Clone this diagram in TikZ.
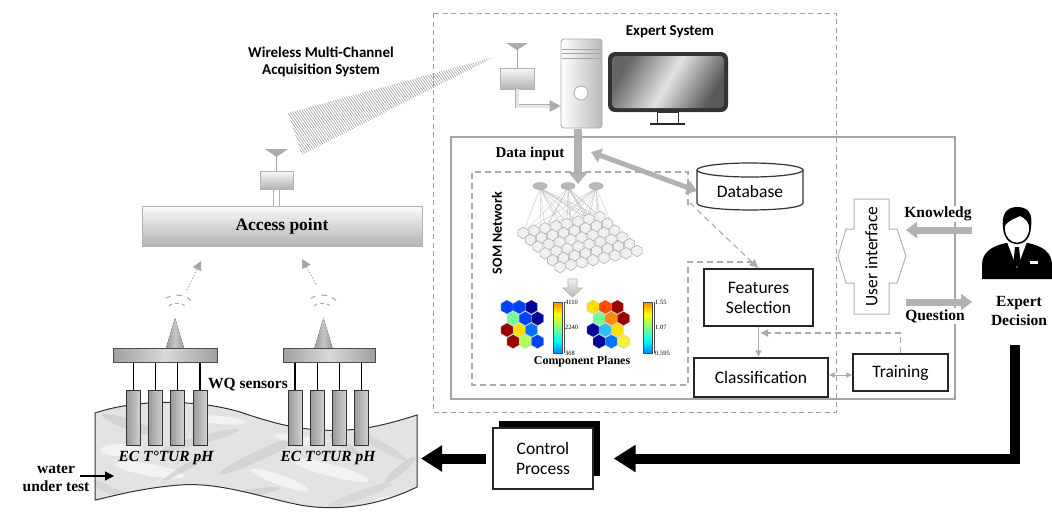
\documentclass[tikz,border=0pt]{standalone}
\usepackage{fontspec}
\setmainfont{Liberation Serif}
\newfontfamily\calfont{Carlito}
\usetikzlibrary{arrows.meta,patterns.meta,calc,shapes.geometric}
% jet colour map
\definecolor{jdblue}{rgb}{0,0,0.5}
\definecolor{jdred}{rgb}{0.5,0,0}
\definecolor{jblue}{rgb}{0,0,1}
\definecolor{jcyan}{rgb}{0,1,1}
\definecolor{jyel}{rgb}{1,1,0}
\definecolor{jred}{rgb}{1,0,0}
\pgfdeclareverticalshading{jetbar}{100bp}{color(0bp)=(jdblue); color(12bp)=(jblue); color(37bp)=(jcyan); color(63bp)=(jyel); color(88bp)=(jred); color(100bp)=(jdred)}
% cell colours of the component planes
\definecolor{cdb}{rgb}{0,0,0.6}
\definecolor{cb}{rgb}{0,0.25,1}
\definecolor{cbb}{rgb}{0,0.45,1}
\definecolor{clb}{rgb}{0.2,0.75,1}
\definecolor{ccg}{rgb}{0.45,1,0.6}
\definecolor{clg}{rgb}{0.7,1,0.35}
\definecolor{cy}{rgb}{1,0.88,0}
\definecolor{cyg}{rgb}{0.95,0.95,0.25}
\definecolor{co}{rgb}{1,0.55,0}
\definecolor{cor}{rgb}{1,0.3,0}
\definecolor{cdr}{rgb}{0.6,0,0}
\begin{document}
\begin{tikzpicture}[x=1pt,y=-1pt,
  sanstext/.style={font=\calfont\fontsize{17.5}{20}\selectfont, align=center},
  sansbold/.style={font=\calfont\bfseries\fontsize{15}{17.5}\selectfont, align=center},
  seriftext/.style={font=\rmfamily\bfseries\fontsize{15.5}{19}\selectfont, align=center},
  procbox/.style={draw=black!85, line width=1.3pt, fill=white, sanstext, inner sep=0pt},
  zonedash/.style={draw=gray!75, line width=0.9pt, dash pattern=on 5pt off 3.5pt},
  flowdash/.style={draw=gray!65, line width=1.1pt, dash pattern=on 6pt off 4pt},
  grayarrow/.style={draw=gray!60, line width=#1},
  smallhead/.style={-{Latex[length=7pt,width=7pt]}},
  blackarrow/.style={draw=black, line width=10pt, line join=miter,
     -{Triangle[length=22pt,width=26pt]}},
  hexcell/.style={draw=black!25, line width=0.2pt},
]
\useasboundingbox[fill=white] (0,0) rectangle (1052,515);

% ---------- water body ----------
\begin{scope}
\path[clip] (95,413) .. controls (140,398) and (200,400) .. (240,412)
   .. controls (270,422) and (290,428) .. (320,430)
   .. controls (360,432) and (385,425) .. (417,415) -- (417,487)
   .. controls (380,505) and (340,512) .. (300,505)
   .. controls (260,497) and (220,482) .. (180,485)
   .. controls (140,488) and (110,497) .. (95,500) -- cycle;
\fill[gray!22] (90,395) rectangle (420,515);
\foreach \ex/\ey/\ea/\eb/\rot/\ec in {130/425/30/5/-20/gray!45,200/440/40/4/15/gray!40,150/470/35/6/-10/white,
   260/455/45/5/25/gray!42,330/470/40/6/-15/white,380/445/30/4/-30/gray!40,240/495/40/4/10/gray!45,
   110/490/25/4/-25/gray!40,360/495/35/4/20/gray!38,300/440/25/4/-10/white,190/465/30/3/30/gray!45,
   120/450/20/6/0/white,280/480/30/5/-20/white,400/470/20/4/40/gray!45,220/420/25/4/-5/white,
   170/500/30/4/0/white,345/445/20/3/-35/gray!45,400/500/25/4/0/white}
  \fill[\ec, opacity=0.55, rotate around={\rot:(\ex,\ey)}] (\ex,\ey) ellipse [x radius=\ea, y radius=\eb];
\end{scope}
\draw[black!80, line width=1pt] (95,413) .. controls (140,398) and (200,400) .. (240,412)
   .. controls (270,422) and (290,428) .. (320,430)
   .. controls (360,432) and (385,425) .. (417,415) -- (417,487)
   .. controls (380,505) and (340,512) .. (300,505)
   .. controls (260,497) and (220,482) .. (180,485)
   .. controls (140,488) and (110,497) .. (95,500) -- cycle;

% ---------- sensor stations ----------
\foreach \px/\pw/\rods/\cx in {165/104/{133.5,155.5,177.5,200}/175,
                                329/92/{295,317.5,339.5,361.5}/323.5}{
  \foreach \rx in \rods {
    \draw[black, line width=1.2pt] (\rx,362) -- (\rx,390);
    \draw[black!80, line width=0.8pt, left color=gray!80, right color=gray!35]
      (\rx-7,390) rectangle (\rx+7,445);
  }
  \draw[black!70, line width=0.8pt, left color=gray!75, right color=gray!75, middle color=gray!30]
    (\px-\pw/2,348) rectangle (\px+\pw/2,362);
  \fill[left color=gray!80, right color=gray!80, middle color=gray!45]
    (\cx-9,348) -- (\cx,318) -- (\cx+9,348) -- cycle;
}
% radio waves above the stations
\foreach \wx in {177,322}{
  \foreach \ra/\rb/\rr in {232/248/13,262/278/13,292/306/13,238/252/21,268/284/21,298/312/21}
    \draw[gray!70, line width=1pt] ($(\wx,316)+(\ra:\rr)$) -- ($(\wx,316)+(\rb:\rr)$);
}
\node[font=\rmfamily\bfseries\itshape\fontsize{15.5}{18}\selectfont] (lab1) at (166,458) {EC T°TUR pH};
\node[font=\rmfamily\bfseries\itshape\fontsize{15.5}{18}\selectfont] (lab2) at (328,458) {EC T°TUR pH};
\node[seriftext] (wq) at (248,385) {WQ sensors};

% water under test
\node[seriftext, inner sep=0pt] (water) at (56,478) {water\\[-1pt]under test};
\coordinate (win) at (114,476);
\draw[black, line width=1.3pt, -{Triangle[length=9pt,width=9pt]}] (80,476) -- (win);

% ---------- access point ----------
\node[draw=gray!60, line width=0.8pt, top color=gray!3, bottom color=gray!60,
      minimum width=280, minimum height=40, inner sep=0pt,
      font=\rmfamily\bfseries\fontsize{17.5}{20}\selectfont] (ap) at (282,226) {Access point};
\draw[gray!60, fill=white, line width=0.7pt] (273,189) rectangle (279,206);
\node[draw=gray!60, line width=0.7pt, top color=gray!5, bottom color=gray!60,
      minimum width=33, minimum height=18, inner sep=0pt] (apbox) at (276.5,180) {};
\draw[gray!70, line width=1pt] (276.5,155) -- (apbox.north);
\fill[gray!65] (265,149) -- (288,149) -- (276.5,157) -- cycle;

% uplinks from the stations
\coordinate (up1s) at (187,290);
\coordinate (up1e) at (201,261);
\coordinate (up2s) at (316,284);
\coordinate (up2e) at (302,259);
\draw[gray!70, line width=1.1pt, dotted, -{Triangle[length=9pt,width=9pt]}] (up1s) -- (up1e);
\draw[gray!70, line width=1.1pt, dotted, -{Triangle[length=9pt,width=9pt]}] (up2s) -- (up2e);

% ---------- expert system frame ----------
\draw[zonedash] (433,13) rectangle (836,412);
\draw[gray!70, line width=1.1pt] (451,137) rectangle (955,399);
% wireless link to the expert system
\fill[pattern={Lines[angle=-55,distance=2.2pt,line width=0.5pt]}, pattern color=gray!85]
  (288,113) -- (494,57) -- (302,155) -- cycle;
\node[sansbold] (wlabel) at (321,62) {Wireless Multi-Channel\\Acquisition System};
\node[sansbold] (estitle) at (670,32) {Expert System};

% receiver of the expert system
\fill[gray!65] (506,43) -- (528,43) -- (517,50) -- cycle;
\draw[gray!70, line width=1pt] (517,49) -- (517,68);
\node[draw=gray!60, line width=0.7pt, top color=gray!5, bottom color=gray!60,
      minimum width=34, minimum height=21, inner sep=0pt] (rxbox) at (517,78.5) {};

% computer tower
\node[draw=gray!65, line width=0.9pt, rounded corners=3pt, left color=white, right color=gray!55,
      minimum width=41, minimum height=89, inner sep=0pt] (tower) at (581.5,83.5) {};
\draw[gray!70, line width=0.8pt] (562,49) -- (601,49) (562,53) -- (601,53) (562,58) -- (601,58);
\draw[gray!65, line width=0.8pt, fill=white] (581,93) circle (7);
\coordinate (pipeend) at (tower.west |- 0,106);
\draw[gray!65, line width=0.9pt, double=gray!20, double distance=3pt] (rxbox.south) |- ($(pipeend)+(-9,0)$);
\fill[gray!65] ($(pipeend)+(-11,-6)$) -- (pipeend) -- ($(pipeend)+(-11,6)$) -- cycle;

% monitor
\fill[black!80, rounded corners=7pt] (608,52) rectangle (728,112);
\shade[rounded corners=4pt, left color=gray!80!black, right color=gray!70!black, middle color=gray!22, shading angle=60]
  (612,56) rectangle (724,108);
\draw[black!80, line width=1pt, fill=white] (657,112) rectangle (678,123);
\draw[black!85, line width=2pt] (650,124) -- (685,124);

% data input
\coordinate (dinstart) at (578,129);
\coordinate (dinend) at (578,184);
\draw[grayarrow=8pt, -{Triangle[length=12pt,width=19pt]}] (dinstart) -- (dinend);
\node[font=\rmfamily\bfseries\fontsize{15}{18}\selectfont] (dinlabel) at (530,154) {Data input};

% database
\fill[white] (697,170) -- (697,203) .. controls (697,212.3) and (803,212.3) .. (803,203) -- (803,170) -- cycle;
\draw[black!80, line width=1.2pt] (697,170) -- (697,203) .. controls (697,212.3) and (803,212.3) .. (803,203) -- (803,170);
\draw[black!80, line width=1.2pt, fill=white] (750,170) ellipse [x radius=53, y radius=7];
\node[sanstext, minimum width=106, minimum height=36, inner sep=0pt] (db) at (750,191) {Database};
\coordinate (dbio) at (591,152);
\draw[grayarrow=5pt, {Triangle[length=10pt,width=14pt]}-{Triangle[length=10pt,width=14pt]}] (dbio) -- (db.west);

% ---------- SOM network ----------
\draw[flowdash] (688,205) -- (688,172) -- (472,172) -- (472,385) -- (688,385) -- (688,262) -- (752,262);
\node[font=\calfont\bfseries\fontsize{14}{16}\selectfont, rotate=90] (somlabel) at (497,233) {SOM Network};
\foreach \nx in {540,568,596}{
  \foreach \i/\j in {0/0,0/2,0/4,0/6,0/7,1/1,1/6,2/3,3/5,2/7,4/2}{
    \pgfmathsetmacro\gx{523+\j*11+\i*7.4}
    \pgfmathsetmacro\gy{233-\j*2.3+\i*6.8}
    \draw[gray!55, line width=0.3pt] (\nx,188) -- (\gx,\gy);
  }
}
\foreach \i in {0,...,5}{
  \foreach \j in {0,...,7}{
    \pgfmathsetmacro\gx{523+\j*11+\i*7.4}
    \pgfmathsetmacro\gy{233-\j*2.3+\i*6.8}
    \draw[gray!70, fill=gray!12, line width=0.5pt] (\gx,\gy)
      +(30:5.8) -- +(90:5.8) -- +(150:5.8) -- +(210:5.8) -- +(270:5.8) -- +(330:5.8) -- cycle;
  }
}
\foreach \nx/\nm in {540/somA,568/somB,596/somC}
  \node[draw=gray!70, fill=gray!55, ellipse, minimum width=14, minimum height=7, inner sep=0pt] (\nm) at (\nx,186) {};
% arrow to the component planes
\draw[gray!60, line width=0.7pt, top color=gray!10, bottom color=gray!55]
  (568,279) -- (577,279) -- (577,288) -- (582,288) -- (572.5,297) -- (563,288) -- (568,288) -- cycle;

% component planes
\foreach \ox/\cells in {507/{0/0/cb,0/1/cb,0/2/cdb,1/0/ccg,1/1/cb,1/2/cdb,2/0/cdr,2/1/cy,2/2/cbb,3/0/cdr,3/1/clg,3/2/cb},
                        593/{0/0/cy,0/1/cor,0/2/cdr,1/0/ccg,1/1/co,1/2/cdr,2/0/cdb,2/1/clb,2/2/cy,3/0/cdb,3/1/cbb,3/2/cyg}}{
  \foreach \r/\c/\col in \cells{
    \pgfmathsetmacro\hx{\ox+\c*12.2+mod(\r,2)*6.1}
    \pgfmathsetmacro\hy{307+\r*11.5}
    \path[fill=\col, hexcell] (\hx,\hy)
      +(30:7) -- +(90:7) -- +(150:7) -- +(210:7) -- +(270:7) -- +(330:7) -- cycle;
  }
}
\foreach \bx/\ta/\tb/\tc in {553/4110/2240/368, 643/1.55/1.07/0.595}{
  \shade[shading=jetbar] (\bx,302) rectangle (\bx+9,353);
  \draw[black!70, line width=0.4pt] (\bx,302) rectangle (\bx+9,353);
  \draw[black!70, line width=0.4pt] (\bx+11,302) -- (\bx+11,353);
  \node[anchor=west, font=\fontsize{6.5}{7}\selectfont, inner sep=1pt] at (\bx+11,302) {\ta};
  \node[anchor=west, font=\fontsize{6.5}{7}\selectfont, inner sep=1pt] at (\bx+11,327) {\tb};
  \node[anchor=west, font=\fontsize{6.5}{7}\selectfont, inner sep=1pt] at (\bx+11,353) {\tc};
}
\node[font=\rmfamily\bfseries\fontsize{12}{14}\selectfont] (cplabel) at (582,362) {Component Planes};

% ---------- decision chain ----------
\node[procbox, minimum width=109, minimum height=57] (feat) at (758.5,297.5) {Features\\Selection};
\node[procbox, minimum width=134, minimum height=39] (class) at (761,377.5) {Classification};
\node[procbox, minimum width=95, minimum height=37] (train) at (900.5,372.5) {Training};
\coordinate (dbout) at (690,203);
\draw[flowdash, -{Latex[length=9pt,width=9pt]}] (dbout) -- (feat.north);
\draw[gray!65, line width=1.2pt, smallhead] (feat.south) -- (feat.south |- class.north);
\coordinate (trin) at (760,333);
\draw[flowdash, -{Latex[length=8pt,width=8pt]}] (train.north) |- (trin);
\draw[gray!65, line width=1pt, {Latex[length=6pt,width=6pt]}-{Latex[length=6pt,width=6pt]}]
  (class.east |- 0,375) -- (train.west |- 0,375);

% user interface
\draw[gray!60, line width=1pt, fill=white]
  (854,199) -- (889,199) -- (889,229) -- (897,229) -- (906,256) -- (897,283) -- (889,283)
  -- (889,314) -- (854,314) -- (854,283) -- (846,283) -- (838,256) -- (846,229) -- (854,229) -- cycle;
\node[sanstext, rotate=90] (ui) at (871.5,256.5) {User interface};

% knowledge and question
\coordinate (kstart) at (972,230);
\coordinate (kend) at (906,230);
\coordinate (qstart) at (906,302);
\coordinate (qend) at (972,302);
\node[seriftext, fill=white, inner sep=1pt] (klabel) at (938,214) {Knowledg};
\node[seriftext, fill=white, inner sep=1pt] (qlabel) at (935,316) {Question};
\draw[grayarrow=7pt, -{Triangle[length=11pt,width=16pt]}] (kstart) -- (kend);
\draw[grayarrow=7pt, -{Triangle[length=11pt,width=16pt]}] (qstart) -- (qend);

% expert
\fill[black] (982,279) -- (982,265) .. controls (982,252) and (992,246) .. (1006,243) -- (1028,243)
   .. controls (1042,246) and (1052,252) .. (1052,265) -- (1052,279) -- cycle;
\fill[white] (1007,242) -- (1027,242) -- (1017,268) -- cycle;
\fill[black] (1015,247) -- (1019,247) -- (1020.5,262) -- (1017,267) -- (1013.5,262) -- cycle;
\fill[white] (1030,261) rectangle (1038,264);
\draw[black, line width=1.6pt, fill=white] (1017,228) ellipse [x radius=13, y radius=15.5];
\fill[black] (1003.5,230) .. controls (1000,213) and (1008,207) .. (1017,207)
   .. controls (1027,207) and (1034,212) .. (1030.5,230)
   .. controls (1029,222) and (1025,218) .. (1020,216)
   .. controls (1014,219) and (1009,220) .. (1005.5,225) -- cycle;
\node[seriftext] (expert) at (1019,311) {Expert\\Decision};

% control loop
\fill[black] (499,421) rectangle (600,476);
\node[procbox, minimum width=100, minimum height=61] (ctrl) at (543,458.5) {Control\\Process};
\coordinate (decout) at (1015,345);
\draw[blackarrow, shorten >=20pt] (decout) |- (ctrl.east);
\coordinate (wret) at (421,458.5);
\draw[draw=black, line width=10pt, -{Triangle[length=21pt,width=25pt]}, shorten <=6pt] (ctrl.west) -- (wret);
\end{tikzpicture}
\end{document}
